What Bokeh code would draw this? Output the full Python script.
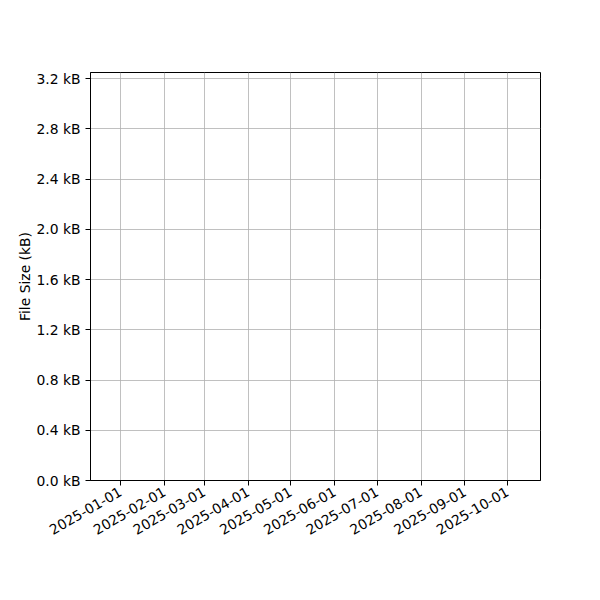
"""
Empty file size chart: dates on x, file size in kB on y.
"""

from datetime import datetime
from bokeh.plotting import figure
from bokeh.models import ColumnDataSource, Range1d, FixedTicker, DatetimeTickFormatter, CustomJSTickFormatter
from bokeh.embed import file_html
from bokeh.resources import INLINE
from math import pi

# no data points in the chart
dates = []
sizes_kb = []

month_ticks = [datetime(2025, m, 1) for m in range(1, 11)]
size_ticks = [0.0, 0.4, 0.8, 1.2, 1.6, 2.0, 2.4, 2.8, 3.2]

x_start = datetime(2024, 12, 10, 20)
x_end = datetime(2025, 10, 24, 7)
y_start = 0.0
y_end = 3.248

FONT = "DejaVu Sans"

p = figure(
    width=600, height=600,
    frame_width=450, frame_height=408,
    min_border_left=90, min_border_right=60,
    min_border_top=72, min_border_bottom=120,
    x_axis_type="datetime",
    x_range=Range1d(x_start, x_end),
    y_range=Range1d(y_start, y_end),
    output_backend="svg",
    toolbar_location=None,
)

src = ColumnDataSource(dict(x=dates, y=sizes_kb))
p.line("x", "y", source=src, line_color="#1f77b4", line_width=1.5)

p.outline_line_color = "black"
p.outline_line_width = 1
p.outline_line_alpha = 1

p.xaxis.ticker = FixedTicker(ticks=[d.timestamp() * 1000 for d in month_ticks])
p.xaxis.formatter = DatetimeTickFormatter(days="%Y-%m-%d", months="%Y-%m-%d", years="%Y-%m-%d")
p.xaxis.major_label_orientation = pi / 6

p.yaxis.ticker = FixedTicker(ticks=size_ticks)
p.yaxis.formatter = CustomJSTickFormatter(code="return tick.toFixed(1) + ' kB';")
p.yaxis.axis_label = "File Size (kB)"
p.yaxis.axis_label_standoff = 0

for ax in (p.xaxis, p.yaxis):
    ax.axis_line_color = "black"
    ax.major_tick_line_color = "black"
    ax.major_tick_out = 5
    ax.major_tick_in = 0
    ax.minor_tick_line_color = None
    ax.major_label_text_font = FONT
    ax.major_label_text_font_size = "13.9px"
    ax.major_label_text_color = "black"
    ax.axis_label_text_font = FONT
    ax.axis_label_text_font_size = "13.9px"
    ax.axis_label_text_font_style = "normal"
    ax.axis_label_text_color = "black"

p.grid.grid_line_color = "#b0b0b0"
p.grid.grid_line_width = 0.8
p.background_fill_color = "white"
p.border_fill_color = "white"

open("out.html", "w").write(file_html(p, INLINE))
